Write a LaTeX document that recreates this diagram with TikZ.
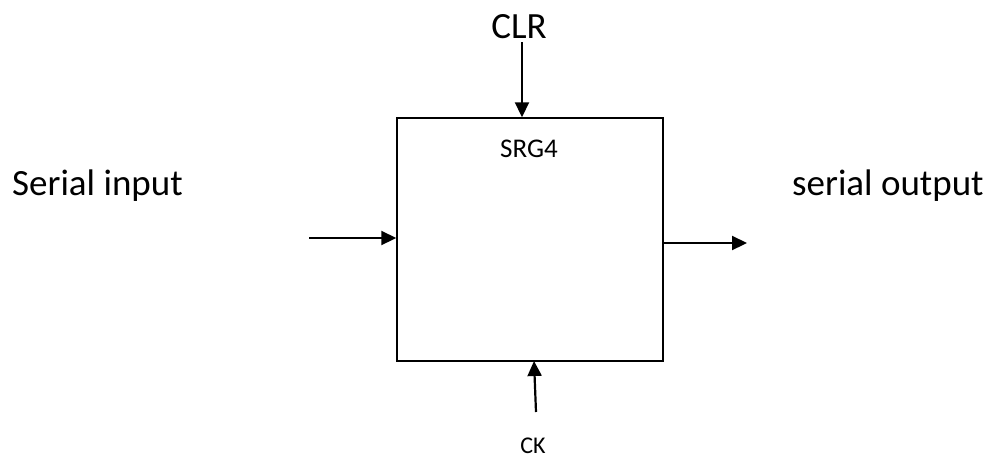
\documentclass[tikz,border=0pt]{standalone}
\usepackage{fontspec}
\setmainfont{Carlito}
\usetikzlibrary{arrows.meta}
\tikzset{
  blk/.style={draw, line width=1.5pt, minimum width=266pt, minimum height=243pt, inner sep=0pt},
  sig/.style={line width=2.2pt, -{Triangle[length=15pt,width=14pt]}},
  bigtxt/.style={font=\fontsize{37}{41}\selectfont, inner sep=0pt},
  smalltxt/.style={font=\fontsize{27}{31}\selectfont, inner sep=0pt}
}
\begin{document}
\begin{tikzpicture}[x=1pt,y=-1pt]
\useasboundingbox (0,0) rectangle (989,459);
\node[blk] (box) at (530,239.5) {};
\node[bigtxt, anchor=base] (clr) at (519,38) {CLR};
\node[bigtxt, anchor=base west] (sin) at (12,195) {Serial input};
\node[bigtxt, anchor=base west] (sout) at (792,195) {serial output};
\node[smalltxt, anchor=base] (srg) at (529,157) {SRG4};
\node[font=\fontsize{24}{28}\selectfont, inner sep=0pt, anchor=base] (ck) at (533,453) {CK};
\coordinate (clrs) at (522,42);
\coordinate (ins) at (309,238);
\coordinate (oute) at (747,243);
\coordinate (cks) at (536,412);
\coordinate (cke) at (534,361);
\draw[sig] (clrs) -- (clrs |- box.north);
\draw[sig] (ins) -- (ins -| box.west);
\draw[sig] (oute -| box.east) -- (oute);
\draw[sig] (cks) -- (cke);
\end{tikzpicture}
\end{document}
